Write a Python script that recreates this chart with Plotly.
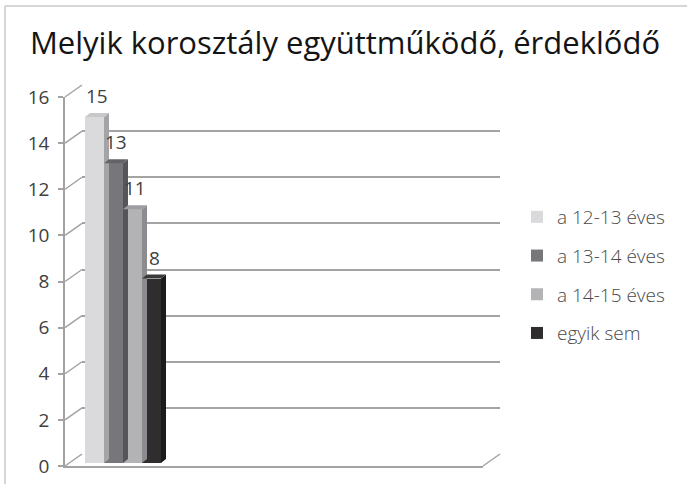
import plotly.graph_objects as go

# ---- data ----
series_names = ["a 12-13 éves", "a 13-14 éves", "a 14-15 éves", "egyik sem"]
series_values = [15, 13, 11, 8]
front_colors = ["#dadadc", "#77777b", "#b3b3b6", "#2f2d2e"]
top_colors = ["#c8c8ca", "#646467", "#9e9ea2", "#3a3839"]
side_colors = ["#a4a4a7", "#55555a", "#8c8c90", "#1c1a1b"]
y_ticks = [0, 2, 4, 6, 8, 10, 12, 14, 16]
title_text = "Melyik korosztály együttműködő, érdeklődő"

W, H = 687, 484
YMAX = 16

def px(x):
    return x / W

def py(y):
    return 1 - y / H

# geometry (window pixels)
FRONT_L, FRONT_R, FRONT_B, FRONT_T = 65, 483, 466, 97
DEPTH_X, DEPTH_Y = 17, 12
BAR_SHIFT_X, BAR_SHIFT_Y = 4, 3
BAR_DX_PX, BAR_DY_PX = 5, 4
GROUP_PX = 76
GROUP_LEFT_PX = 16

fig = go.Figure()

# invisible anchors so the wall and front axes are drawn
fig.add_trace(go.Scatter(x=[0], y=[0], xaxis="x", yaxis="y", mode="markers",
                         marker=dict(opacity=0), showlegend=False, hoverinfo="skip"))
fig.add_trace(go.Scatter(x=[0], y=[0], xaxis="x2", yaxis="y2", mode="markers",
                         marker=dict(opacity=0), showlegend=False, hoverinfo="skip"))

# bars on x3/y3
n = len(series_values)
for i, (name, v) in enumerate(zip(series_names, series_values)):
    fig.add_trace(go.Bar(
        x=[0], y=[v], name=name, xaxis="x3", yaxis="y3",
        marker=dict(color=front_colors[i], line=dict(width=0)),
        legendgroup=name, hoverinfo="skip",
    ))

plot_w = FRONT_R - FRONT_L
plot_h = FRONT_B - FRONT_T
xr0 = -0.5 - GROUP_LEFT_PX / GROUP_PX
xr1 = xr0 + plot_w / GROUP_PX
dx = BAR_DX_PX / GROUP_PX
dy = BAR_DY_PX * YMAX / plot_h
bw = 1.0 / n

shapes = []
annotations = []
for i, v in enumerate(series_values):
    xl = -0.5 + i * bw
    xr = xl + bw
    shapes.append(dict(type="path", xref="x3", yref="y3", layer="above",
                       path=f"M{xr},0 L{xr+dx},{dy} L{xr+dx},{v+dy} L{xr},{v} Z",
                       fillcolor=side_colors[i], line=dict(width=0)))
    shapes.append(dict(type="path", xref="x3", yref="y3", layer="above",
                       path=f"M{xl},{v} L{xl+dx},{v+dy} L{xr+dx},{v+dy} L{xr},{v} Z",
                       fillcolor=top_colors[i], line=dict(width=0)))
    annotations.append(dict(x=(xl + xr) / 2 + dx / 2, y=v + dy, xref="x3", yref="y3",
                            text=str(v), showarrow=False, yanchor="bottom",
                            yshift=2, font=dict(size=19, color="#404040",
                                                family="Open Sans")))

# left wall diagonals and floor
gcol = "#a3a3a3"
for t in y_ticks:
    yf = FRONT_B - t * plot_h / YMAX
    shapes.append(dict(type="line", xref="paper", yref="paper",
                       x0=px(FRONT_L), y0=py(yf), x1=px(FRONT_L + DEPTH_X), y1=py(yf - DEPTH_Y),
                       line=dict(color=gcol, width=1.5), layer="below"))
shapes.append(dict(type="line", xref="paper", yref="paper",
                   x0=px(FRONT_R), y0=py(FRONT_B), x1=px(FRONT_R + DEPTH_X), y1=py(FRONT_B - DEPTH_Y),
                   line=dict(color=gcol, width=1.5), layer="below"))
# chart frame
shapes.append(dict(type="line", xref="paper", yref="paper", x0=px(5), y0=py(6), x1=1.0, y1=py(6),
                   line=dict(color="#c8c8c8", width=1.5)))
shapes.append(dict(type="line", xref="paper", yref="paper", x0=px(5), y0=py(6), x1=px(5), y1=0,
                   line=dict(color="#c8c8c8", width=1.5)))

hidden = dict(showgrid=False, zeroline=False, showticklabels=False, showline=False, ticks="")

fig.update_layout(
    width=W, height=H, autosize=False,
    margin=dict(l=0, r=0, t=0, b=0, pad=0, autoexpand=False),
    paper_bgcolor="white", plot_bgcolor="rgba(0,0,0,0)",
    barmode="group", bargap=0, bargroupgap=0,
    title=dict(text=title_text, x=px(345), xanchor="center", y=py(43), yanchor="middle",
               font=dict(size=31, color="#141414", family="Open Sans")),
    # back wall
    xaxis=dict(domain=[px(FRONT_L + DEPTH_X), px(FRONT_R + DEPTH_X)], range=[0, 1], anchor="y", **hidden),
    yaxis=dict(domain=[py(FRONT_B - DEPTH_Y), py(FRONT_T - DEPTH_Y)], range=[0, YMAX], anchor="x",
               showgrid=True, gridcolor=gcol, gridwidth=1.5, tickvals=y_ticks,
               zeroline=False, showticklabels=False, showline=False, ticks=""),
    # front axis
    xaxis2=dict(domain=[px(FRONT_L), px(FRONT_R)], range=[0, 1], anchor="y2",
                showgrid=False, zeroline=False, showticklabels=False, ticks="",
                showline=True, linecolor=gcol, linewidth=1.5),
    yaxis2=dict(domain=[py(FRONT_B), py(FRONT_T)], range=[0, YMAX], anchor="x2",
                tickvals=y_ticks, ticktext=[str(t) for t in y_ticks],
                showgrid=False, zeroline=False, showline=True, linecolor=gcol, linewidth=1.5,
                ticks="outside", ticklen=5, tickcolor=gcol, tickwidth=1.5,
                ticklabelstandoff=5,
                tickfont=dict(size=19, color="#404040", family="Open Sans")),
    # bars
    xaxis3=dict(domain=[px(FRONT_L + BAR_SHIFT_X), px(FRONT_R + BAR_SHIFT_X)], range=[xr0, xr1], anchor="y3", **hidden),
    yaxis3=dict(domain=[py(FRONT_B - BAR_SHIFT_Y), py(FRONT_T - BAR_SHIFT_Y)], range=[0, YMAX], anchor="x3", **hidden),
    legend=dict(x=px(517), xanchor="left", y=py(198), yanchor="top",
                traceorder="grouped", tracegroupgap=11,
                font=dict(size=19, color="#4a4a4a", family="Open Sans", weight=300),
                bgcolor="rgba(0,0,0,0)"),
    shapes=shapes,
    annotations=annotations,
    showlegend=True,
)

fig.write_html("out.html", config={"displayModeBar": False},
               post_script="document.body.style.margin='0';document.body.style.overflow='hidden';")
